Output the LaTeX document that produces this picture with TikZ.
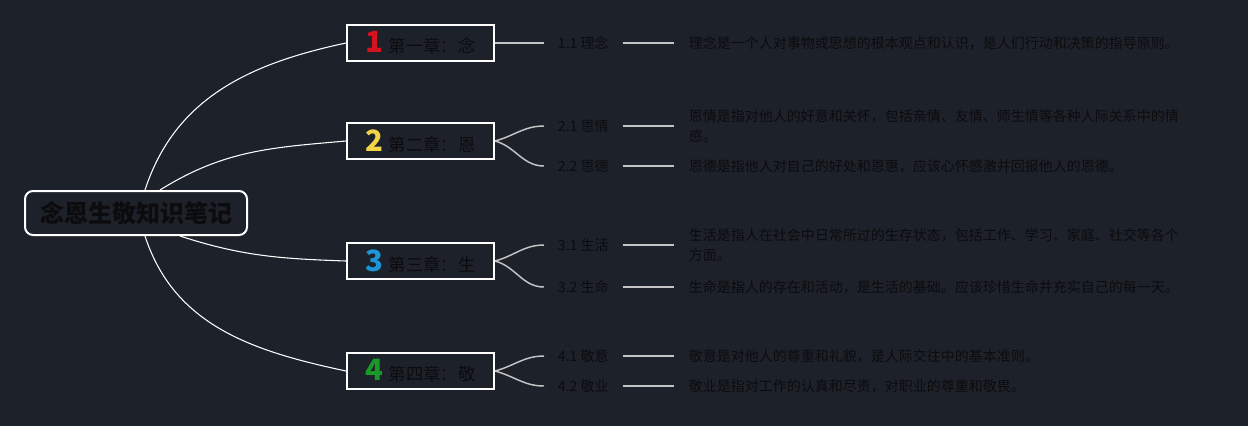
\documentclass[tikz,border=0pt]{standalone}
\usepackage{fontspec}
\setmainfont{Noto Sans CJK SC}
\usetikzlibrary{positioning}
\definecolor{bgnavy}{RGB}{29,33,42}
\definecolor{inkdark}{RGB}{12,12,14}
\definecolor{twiggray}{RGB}{196,196,196}
\definecolor{numred}{RGB}{214,18,32}
\definecolor{numyellow}{RGB}{242,212,72}
\definecolor{numblue}{RGB}{28,150,216}
\definecolor{numgreen}{RGB}{26,152,40}
\newcommand{\chapnum}[2]{{\fontsize{22}{22}\selectfont\bfseries\color{#1}#2}\hspace{4pt}}
\begin{document}
\begin{tikzpicture}[x=0.75pt,y=0.75pt,
  rootbox/.style={draw=white,line width=1.5pt,rounded corners=6pt,minimum width=166.5pt,minimum height=33pt,inner sep=0pt,text=inkdark,font=\fontsize{18}{18}\selectfont\bfseries},
  chapbox/.style={draw=white,line width=1.5pt,minimum width=110.25pt,minimum height=27pt,inner sep=0pt,text=inkdark,font=\fontsize{13}{13}\selectfont},
  sublabel/.style={anchor=west,minimum width=58.5pt,inner sep=0pt,text=inkdark,font=\fontsize{10.5}{10.5}\selectfont},
  desc/.style={right=38.25pt of #1,inner xsep=11.25pt,inner ysep=0pt,align=left,text=inkdark,font=\fontsize{10.5}{15}\selectfont},
  mainline/.style={draw=white,line width=0.8pt},
  twig/.style={draw=twiggray,line width=1.1pt}]
\fill [bgnavy] (0,0) rectangle (1248,-426);
\useasboundingbox (0,0) rectangle (1248,-426);
\node [rootbox] (root) at (136,-213) {念恩生敬知识笔记};
\node [chapbox] (ch1) at (420.5,-43) {\chapnum{numred}{1}第一章：念};
\node [chapbox] (ch2) at (420.5,-141) {\chapnum{numyellow}{2}第二章：恩};
\node [chapbox] (ch3) at (420.5,-261) {\chapnum{numblue}{3}第三章：生};
\node [chapbox] (ch4) at (420.5,-371) {\chapnum{numgreen}{4}第四章：敬};
\draw [mainline] ([xshift=6.75pt]root.north) to[out=72,in=192] (ch1.west);
\draw [mainline] ([xshift=18pt]root.north) to[out=32,in=185] (ch2.west);
\draw [mainline] ([xshift=33pt]root.south) to[out=-18,in=178] (ch3.west);
\draw [mainline] ([xshift=6.75pt]root.south) to[out=-72,in=168] (ch4.west);
\node [sublabel] (s11) at (544,-43) {1.1 理念};
\node [sublabel] (s21) at (544,-126) {2.1 恩情};
\node [sublabel] (s22) at (544,-166) {2.2 恩德};
\node [sublabel] (s31) at (544,-245) {3.1 生活};
\node [sublabel] (s32) at (544,-287) {3.2 生命};
\node [sublabel] (s41) at (544,-356) {4.1 敬意};
\node [sublabel] (s42) at (544,-386) {4.2 敬业};
\draw [twig] (ch1) -- (s11);
\draw [twig] (ch2.east) to[out=15,in=180] (s21.west);
\draw [twig] (ch2.east) to[out=-15,in=180] (s22.west);
\draw [twig] (ch3.east) to[out=15,in=180] (s31.west);
\draw [twig] (ch3.east) to[out=-15,in=180] (s32.west);
\draw [twig] (ch4.east) to[out=15,in=180] (s41.west);
\draw [twig] (ch4.east) to[out=-15,in=180] (s42.west);
\node [desc=s11] (d11) {理念是一个人对事物或思想的根本观点和认识，是人们行动和决策的指导原则。};
\node [desc=s21] (d21) {恩情是指对他人的好意和关怀，包括亲情、友情、师生情等各种人际关系中的情\\感。};
\node [desc=s22] (d22) {恩德是指他人对自己的好处和恩惠，应该心怀感激并回报他人的恩德。};
\node [desc=s31] (d31) {生活是指人在社会中日常所过的生存状态，包括工作、学习、家庭、社交等各个\\方面。};
\node [desc=s32] (d32) {生命是指人的存在和活动，是生活的基础。应该珍惜生命并充实自己的每一天。};
\node [desc=s41] (d41) {敬意是对他人的尊重和礼貌，是人际交往中的基本准则。};
\node [desc=s42] (d42) {敬业是指对工作的认真和尽责，对职业的尊重和敬畏。};
\draw [twig] (s11) -- (d11);
\draw [twig] (s21) -- (d21);
\draw [twig] (s22) -- (d22);
\draw [twig] (s31) -- (d31);
\draw [twig] (s32) -- (d32);
\draw [twig] (s41) -- (d41);
\draw [twig] (s42) -- (d42);
\end{tikzpicture}
\end{document}
